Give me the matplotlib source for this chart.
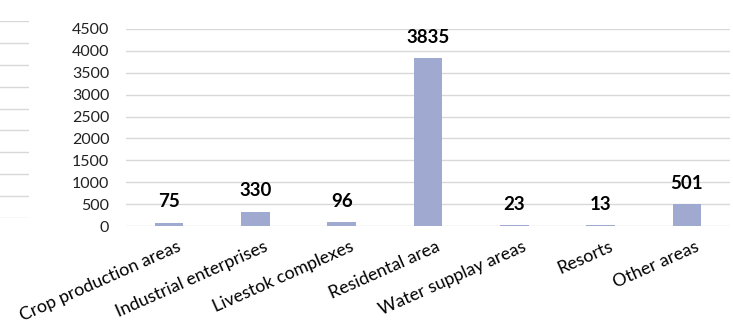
import matplotlib
matplotlib.use("Agg")
import matplotlib.pyplot as plt
from matplotlib.transforms import ScaledTranslation

plt.rcParams['font.family'] = ['Lato', 'DejaVu Sans']

categories = ["Crop production areas", "Industrial enterprises", "Livestok complexes",
              "Residental area", "Water supplay areas", "Resorts", "Other areas"]
values = [75, 330, 96, 3835, 23, 13, 501]
yticks = [0, 500, 1000, 1500, 2000, 2500, 3000, 3500, 4000, 4500]

W, H = 733, 324
fig = plt.figure(figsize=(W / 100, H / 100), dpi=100)

bar_color = "#A0A9D0"
grid_color = "#D9D9D9"

# Main chart
ax = fig.add_axes([126 / W, (H - 226) / H, 604 / W, 197 / H])
x = list(range(len(categories)))
ax.bar(x, values, width=0.33, color=bar_color, zorder=2)
ax.set_xlim(-0.5, len(categories) - 0.5)
ax.set_ylim(0, 4500)
ax.set_yticks(yticks)
ax.yaxis.grid(True, color=grid_color, linewidth=1, zorder=0)
ax.set_axisbelow(True)
for s in ax.spines.values():
    s.set_visible(False)
ax.tick_params(axis='both', length=0)
ax.tick_params(axis='y', labelsize=11.5, pad=12, colors="#222222")
ax.set_xticks(x)
ax.set_xticklabels(categories, rotation=24, ha='right', rotation_mode='anchor',
                   fontsize=12.8, color="#000000")
ax.tick_params(axis='x', pad=9)
shift = ScaledTranslation(8 / 100, 0, fig.dpi_scale_trans)
for lbl in ax.get_xticklabels():
    lbl.set_transform(lbl.get_transform() + shift)

for xi, v in zip(x, values):
    ax.annotate(str(v), (xi, v), xytext=(0, 11), textcoords='offset points',
                ha='center', va='baseline', fontsize=13.5, fontweight='bold', color="#000000")

# Gridlines of the neighbouring chart at the left edge
ax2 = fig.add_axes([0, (H - 218) / H, 29 / W, 197 / H])
ax2.set_xlim(0, 1)
ax2.set_ylim(0, 4500)
for t in yticks:
    ax2.axhline(t, color=grid_color, linewidth=1)
ax2.axis('off')

fig.savefig("out.png", dpi=100)
